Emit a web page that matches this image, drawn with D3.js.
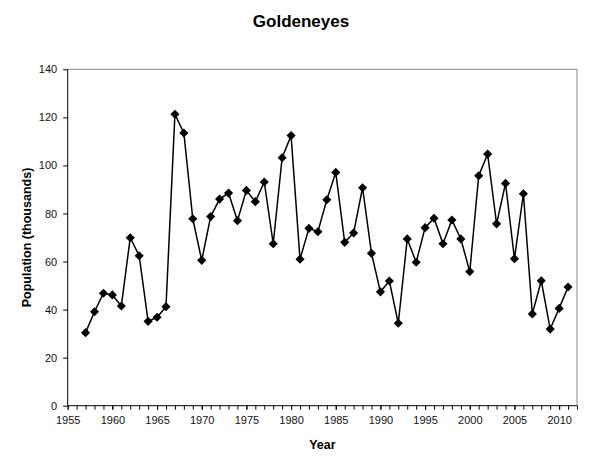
<!DOCTYPE html>
<html>
<head>
<meta charset="utf-8">
<script src="https://cdn.jsdelivr.net/npm/d3@7"></script>
<style>
  body { margin: 0; background: #fff; }
  svg { display: block; font-family: "Liberation Sans", Arial, sans-serif; }
</style>
</head>
<body>
<div id="chart"></div>
<script>
// Goldeneye population, thousands
var years = [1957, 1958, 1959, 1960, 1961, 1962, 1963, 1964, 1965, 1966,
  1967, 1968, 1969, 1970, 1971, 1972, 1973, 1974, 1975, 1976,
  1977, 1978, 1979, 1980, 1981, 1982, 1983, 1984, 1985, 1986,
  1987, 1988, 1989, 1990, 1991, 1992, 1993, 1994, 1995, 1996,
  1997, 1998, 1999, 2000, 2001, 2002, 2003, 2004, 2005, 2006,
  2007, 2008, 2009, 2010, 2011]
var population = [30.4, 39.1, 46.8, 46.1, 41.5, 69.9, 62.4, 35.1, 36.8, 41.2,
  121.3, 113.5, 77.8, 60.5, 78.7, 86.0, 88.5, 77.0, 89.6, 84.9,
  93.1, 67.4, 103.2, 112.4, 61.0, 73.8, 72.4, 85.7, 97.1, 68.0,
  71.9, 90.7, 63.4, 47.4, 51.9, 34.3, 69.4, 59.7, 74.1, 78.0,
  67.4, 77.3, 69.4, 55.8, 95.7, 104.7, 75.7, 92.5, 61.2, 88.2,
  38.2, 52.0, 31.9, 40.5, 49.4]
var xTicks = [1955, 1960, 1965, 1970, 1975, 1980, 1985, 1990, 1995, 2000, 2005, 2010]
var yTicks = [0, 20, 40, 60, 80, 100, 120, 140]

var data = years.map(function(y, i) { return {year: y, value: population[i]} })

var w = 589, h = 459
var margin = {top: 69.3, right: 12, bottom: 53.3, left: 67.7}
var width = w - margin.left - margin.right
var height = h - margin.top - margin.bottom

var svg = d3.select('#chart').append('svg')
    .attr('width', w)
    .attr('height', h)

var g = svg.append('g')
    .attr('transform', 'translate(' + margin.left + ',' + margin.top + ')')

var x = d3.scaleLinear().domain([1955, 2012]).range([0, width])
var y = d3.scaleLinear().domain([0, 140]).range([height, 0])

// plot frame (top/right grey)
g.append('path')
    .attr('d', 'M0,0H' + width + 'V' + height)
    .attr('fill', 'none')
    .attr('stroke', '#888')
    .attr('stroke-width', 1)

// minor ticks every year
var xAxisMinor = g.append('g')
    .attr('transform', 'translate(0,' + height + ')')
    .call(d3.axisBottom(x).tickValues(d3.range(1955, 2013)).tickSize(4).tickFormat(''))
xAxisMinor.select('.domain').remove()
xAxisMinor.selectAll('line').attr('stroke', '#000')

var xAxis = g.append('g')
    .attr('transform', 'translate(0,' + height + ')')
    .call(d3.axisBottom(x).tickValues(xTicks).tickSize(4).tickPadding(7).tickFormat(d3.format('d')))
xAxis.select('.domain').attr('stroke', '#000').attr('d', 'M0,0H' + width)
xAxis.selectAll('text')
    .attr('font-size', '11px')
    .attr('fill', '#111')
    .style('font-family', '"Liberation Sans", Arial, sans-serif')

var yAxis = g.append('g')
    .call(d3.axisLeft(y).tickValues(yTicks).tickSize(4.5).tickPadding(6))
yAxis.select('.domain').attr('stroke', '#000').attr('d', 'M0,0V' + height)
yAxis.selectAll('line').attr('stroke', '#000')
yAxis.selectAll('text')
    .attr('font-size', '11px')
    .attr('fill', '#111')
    .style('font-family', '"Liberation Sans", Arial, sans-serif')

var line = d3.line()
    .x(function(d) { return x(d.year) })
    .y(function(d) { return y(d.value) })

g.append('path')
    .datum(data)
    .attr('fill', 'none')
    .attr('stroke', '#000')
    .attr('stroke-width', 1.5)
    .attr('d', line)

var diamond = d3.symbol().type(d3.symbolSquare).size(42)

g.selectAll('.marker')
    .data(data)
  .enter().append('path')
    .attr('class', 'marker')
    .attr('d', diamond)
    .attr('fill', '#000')
    .attr('transform', function(d) {
      return 'translate(' + x(d.year) + ',' + y(d.value) + ') rotate(45)'
    })

svg.append('text')
    .attr('x', 301)
    .attr('y', 26.5)
    .attr('text-anchor', 'middle')
    .attr('font-size', '17px')
    .attr('font-weight', 'bold')
    .text('Goldeneyes')

svg.append('text')
    .attr('x', margin.left + width / 2)
    .attr('y', 449)
    .attr('text-anchor', 'middle')
    .attr('font-size', '12.5px')
    .attr('font-weight', 'bold')
    .text('Year')

svg.append('text')
    .attr('transform', 'translate(31,' + (margin.top + height / 2) + ') rotate(-90)')
    .attr('text-anchor', 'middle')
    .attr('font-size', '12.5px')
    .attr('font-weight', 'bold')
    .text('Population (thousands)')
</script>
</body>
</head>
